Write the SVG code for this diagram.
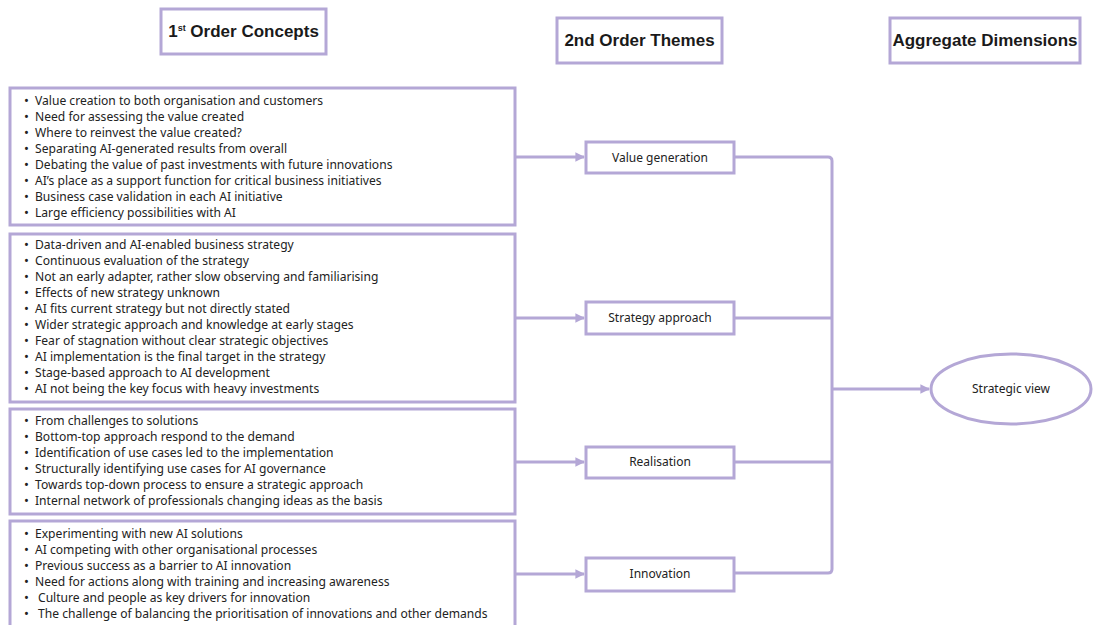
<svg xmlns="http://www.w3.org/2000/svg" width="1095" height="625" viewBox="0 0 1095 625">
<defs>
<style>
.box{fill:#ffffff;stroke:#b4a7d6;stroke-width:3}
.hdr{font-family:"Liberation Sans",Arial,sans-serif;font-size:17px;font-weight:bold;fill:#1a1a1a}
.li{font-family:"Noto Sans","Liberation Sans",Arial,sans-serif;font-size:12.1px;fill:#222222}
.bu{font-size:13px}
.th{font-family:"Noto Sans","Liberation Sans",Arial,sans-serif;font-size:12px;fill:#222222;text-anchor:middle}
.con{fill:none;stroke:#b4a7d6;stroke-width:3;stroke-linejoin:round}
</style>
<marker id="arr" viewBox="0 0 10 10" refX="9" refY="5" markerWidth="3.2" markerHeight="3.6" markerUnits="strokeWidth" orient="auto">
<path d="M0,0 L10,5 L0,10 z" fill="#b4a7d6"/>
</marker>
</defs>
<rect width="1095" height="625" fill="#ffffff"/>

<g id="header-1st">
<rect class="box" x="161" y="9" width="165" height="45"/>
<text class="hdr" x="243.5" y="37" text-anchor="middle">1<tspan font-size="9" dy="-6">st</tspan><tspan dy="6"> Order Concepts</tspan></text>
</g>
<g id="header-2nd">
<rect class="box" x="557" y="18" width="165" height="45"/>
<text class="hdr" x="639.5" y="46" text-anchor="middle">2nd Order Themes</text>
</g>
<g id="header-agg">
<rect class="box" x="890" y="18" width="190" height="45"/>
<text class="hdr" x="985" y="46" text-anchor="middle">Aggregate Dimensions</text>
</g>

<g id="concepts-value">
<rect class="box" x="10" y="88" width="505" height="137"/>
<text class="li">
<tspan class="bu" x="24" y="105">•</tspan><tspan x="35" y="105">Value creation to both organisation and customers</tspan>
<tspan class="bu" x="24" y="121">•</tspan><tspan x="35" y="121">Need for assessing the value created</tspan>
<tspan class="bu" x="24" y="137">•</tspan><tspan x="35" y="137">Where to reinvest the value created?</tspan>
<tspan class="bu" x="24" y="153">•</tspan><tspan x="35" y="153">Separating AI-generated results from overall</tspan>
<tspan class="bu" x="24" y="169">•</tspan><tspan x="35" y="169">Debating the value of past investments with future innovations</tspan>
<tspan class="bu" x="24" y="185">•</tspan><tspan x="35" y="185">AI’s place as a support function for critical business initiatives</tspan>
<tspan class="bu" x="24" y="201">•</tspan><tspan x="35" y="201">Business case validation in each AI initiative</tspan>
<tspan class="bu" x="24" y="217">•</tspan><tspan x="35" y="217">Large efficiency possibilities with AI</tspan>
</text>
</g>

<g id="concepts-strategy">
<rect class="box" x="10" y="234" width="505" height="168"/>
<text class="li">
<tspan class="bu" x="24" y="249">•</tspan><tspan x="35" y="249">Data-driven and AI-enabled business strategy</tspan>
<tspan class="bu" x="24" y="265">•</tspan><tspan x="35" y="265">Continuous evaluation of the strategy</tspan>
<tspan class="bu" x="24" y="281">•</tspan><tspan x="35" y="281">Not an early adapter, rather slow observing and familiarising</tspan>
<tspan class="bu" x="24" y="297">•</tspan><tspan x="35" y="297">Effects of new strategy unknown</tspan>
<tspan class="bu" x="24" y="313">•</tspan><tspan x="35" y="313">AI fits current strategy but not directly stated</tspan>
<tspan class="bu" x="24" y="329">•</tspan><tspan x="35" y="329">Wider strategic approach and knowledge at early stages</tspan>
<tspan class="bu" x="24" y="345">•</tspan><tspan x="35" y="345">Fear of stagnation without clear strategic objectives</tspan>
<tspan class="bu" x="24" y="361">•</tspan><tspan x="35" y="361">AI implementation is the final target in the strategy</tspan>
<tspan class="bu" x="24" y="377">•</tspan><tspan x="35" y="377">Stage-based approach to AI development</tspan>
<tspan class="bu" x="24" y="393">•</tspan><tspan x="35" y="393">AI not being the key focus with heavy investments</tspan>
</text>
</g>

<g id="concepts-realisation">
<rect class="box" x="10" y="409" width="505" height="105"/>
<text class="li">
<tspan class="bu" x="24" y="425">•</tspan><tspan x="35" y="425">From challenges to solutions</tspan>
<tspan class="bu" x="24" y="441">•</tspan><tspan x="35" y="441">Bottom-top approach respond to the demand</tspan>
<tspan class="bu" x="24" y="457">•</tspan><tspan x="35" y="457">Identification of use cases led to the implementation</tspan>
<tspan class="bu" x="24" y="473">•</tspan><tspan x="35" y="473">Structurally identifying use cases for AI governance</tspan>
<tspan class="bu" x="24" y="489">•</tspan><tspan x="35" y="489">Towards top-down process to ensure a strategic approach</tspan>
<tspan class="bu" x="24" y="505">•</tspan><tspan x="35" y="505">Internal network of professionals changing ideas as the basis</tspan>
</text>
</g>

<g id="concepts-innovation">
<rect class="box" x="10" y="521" width="505" height="110"/>
<text class="li">
<tspan class="bu" x="24" y="538">•</tspan><tspan x="35" y="538">Experimenting with new AI solutions</tspan>
<tspan class="bu" x="24" y="554">•</tspan><tspan x="35" y="554">AI competing with other organisational processes</tspan>
<tspan class="bu" x="24" y="570">•</tspan><tspan x="35" y="570">Previous success as a barrier to AI innovation</tspan>
<tspan class="bu" x="24" y="586">•</tspan><tspan x="35" y="586">Need for actions along with training and increasing awareness</tspan>
<tspan class="bu" x="24" y="602">•</tspan><tspan x="38" y="602">Culture and people as key drivers for innovation</tspan>
<tspan class="bu" x="24" y="618">•</tspan><tspan x="38" y="618">The challenge of balancing the prioritisation of innovations and other demands</tspan>
</text>
</g>

<g id="theme-value">
<rect class="box" x="586" y="142" width="148" height="31"/>
<text class="th" x="660" y="162">Value generation</text>
</g>
<g id="theme-strategy">
<rect class="box" x="586" y="302" width="148" height="32"/>
<text class="th" x="660" y="322">Strategy approach</text>
</g>
<g id="theme-realisation">
<rect class="box" x="586" y="447" width="148" height="31"/>
<text class="th" x="660" y="466">Realisation</text>
</g>
<g id="theme-innovation">
<rect class="box" x="586" y="558" width="148" height="33"/>
<text class="th" x="660" y="578">Innovation</text>
</g>

<g id="dim-strategic-view">
<ellipse class="box" cx="1011" cy="389" rx="80" ry="35"/>
<text class="th" x="1011" y="393">Strategic view</text>
</g>

<g id="connectors">
<line class="con" x1="516" y1="157" x2="584" y2="157" marker-end="url(#arr)"/>
<line class="con" x1="516" y1="318" x2="584" y2="318" marker-end="url(#arr)"/>
<line class="con" x1="516" y1="462" x2="584" y2="462" marker-end="url(#arr)"/>
<line class="con" x1="516" y1="574" x2="584" y2="574" marker-end="url(#arr)"/>
<path class="con" d="M735,157 H828 Q832,157 832,161 V569 Q832,573 828,573 H735"/>
<line class="con" x1="735" y1="318" x2="832" y2="318"/>
<line class="con" x1="735" y1="462" x2="832" y2="462"/>
<line class="con" x1="832" y1="389" x2="929" y2="389" marker-end="url(#arr)"/>
</g>
</svg>
